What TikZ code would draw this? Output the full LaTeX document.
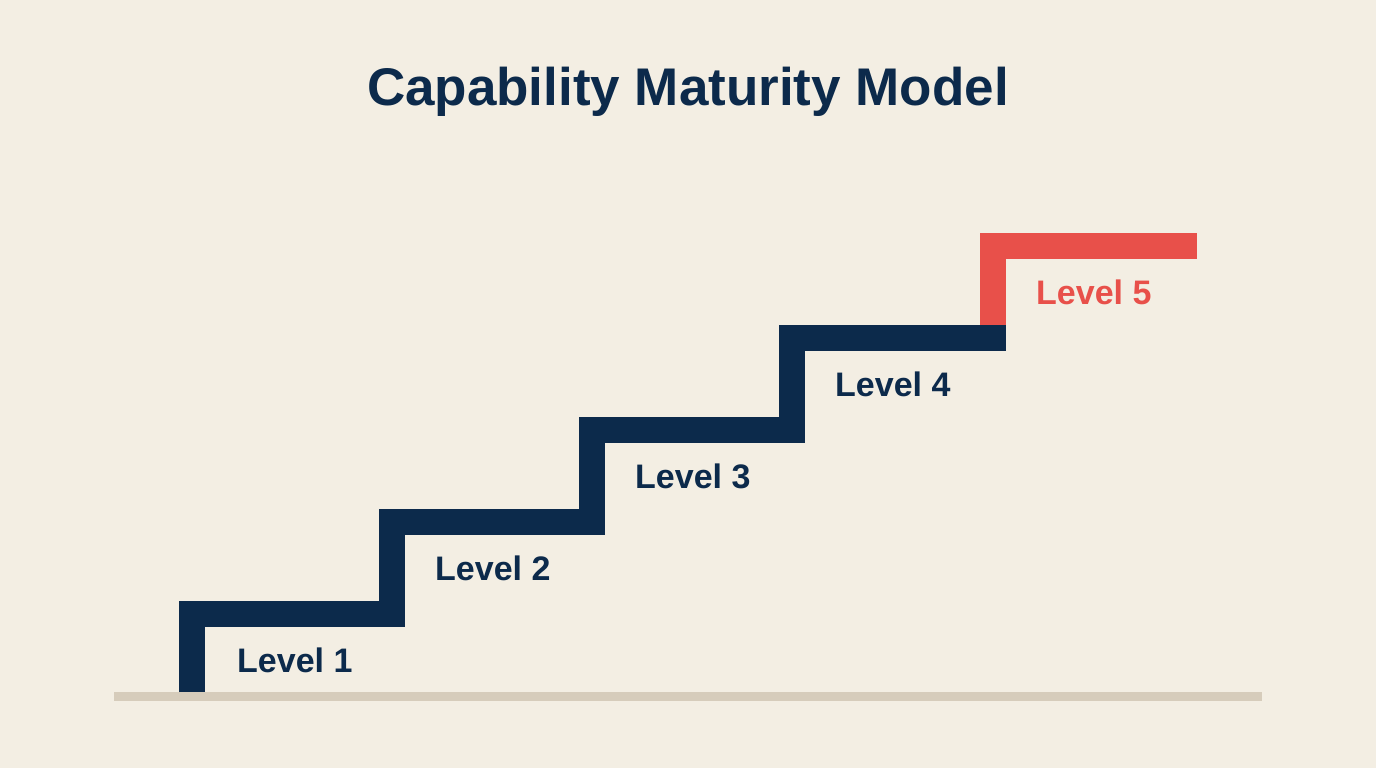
\documentclass[tikz,border=0pt]{standalone}
\usepackage{fontspec}
\setmainfont{Liberation Sans}
\definecolor{bg}{HTML}{F3EEE3}
\definecolor{navy}{HTML}{0C2A4B}
\definecolor{accent}{HTML}{E8504A}
\definecolor{ground}{HTML}{D6CCBB}
\tikzset{
  stair/.style={line width=26pt, line join=miter, line cap=butt},
  lvl/.style={anchor=base west, inner sep=0pt, font=\fontsize{34}{40}\selectfont\bfseries},
}
\begin{document}
\begin{tikzpicture}[x=1pt,y=-1pt]
\fill[bg] (0,0) rectangle (1376,768);
\useasboundingbox (0,0) rectangle (1376,768);
\node[inner sep=0pt, anchor=base, text=navy, font=\fontsize{53}{60}\selectfont\bfseries] (title) at (688,106) {Capability Maturity Model};
\fill[ground] (114,692) rectangle (1262,701);
\draw[stair, navy] (192,692) -- (192,614) -- (392,614) -- (392,522) -- (592,522) -- (592,430) -- (792,430) -- (792,338) -- (1006,338);
\draw[stair, accent] (993,325) -- (993,246) -- (1197,246);
\node[lvl, text=navy] (l1) at (237,672) {Level 1};
\node[lvl, text=navy] (l2) at (435,580) {Level 2};
\node[lvl, text=navy] (l3) at (635,488) {Level 3};
\node[lvl, text=navy] (l4) at (835,396) {Level 4};
\node[lvl, text=accent] (l5) at (1036,304) {Level 5};
\end{tikzpicture}
\end{document}
